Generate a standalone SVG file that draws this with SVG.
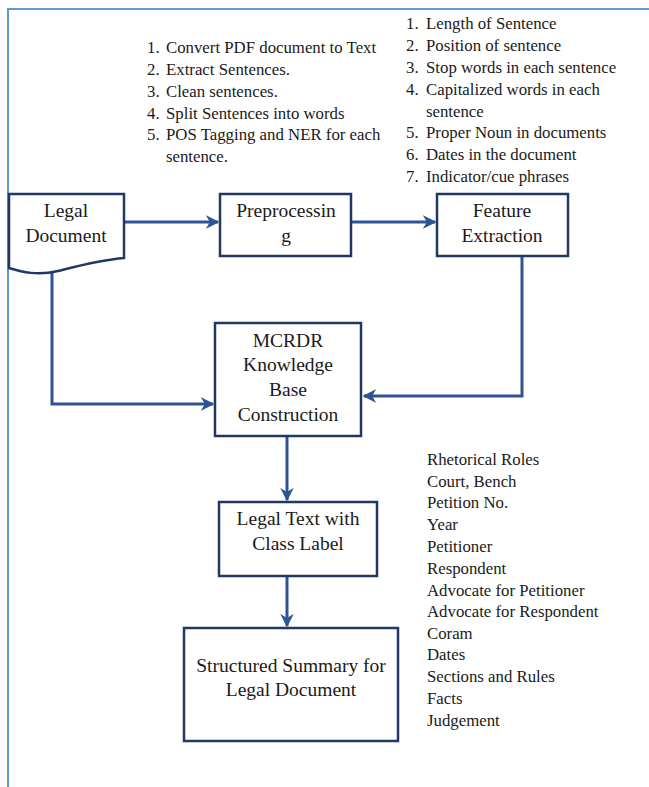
<svg xmlns="http://www.w3.org/2000/svg" width="649" height="787" viewBox="0 0 649 787">
<defs>
<style>
.frame{fill:none;stroke:#5B9BD5;stroke-width:2}
.box{fill:#fff;stroke:#1F3864;stroke-width:2.5}
.conn{fill:none;stroke:#2F5496;stroke-width:3}
.t{font-family:"Liberation Serif","Times New Roman",serif;fill:#1a1a1a}
.bt{font-size:19.5px;text-anchor:middle}
.lt{font-size:16.8px}
</style>
<marker id="ah" viewBox="0 0 10 10" refX="9" refY="5" markerWidth="4.5" markerHeight="4.5" orient="auto" markerUnits="strokeWidth">
<path d="M0,0 L10,5 L0,10 L3,5 Z" fill="#2F5496"/>
</marker>
</defs>
<rect width="649" height="787" fill="#fff"/>
<path class="frame" d="M8,787 V9 H649"/>

<g id="connectors">
<path class="conn" d="M124,222 H218" marker-end="url(#ah)"/>
<path class="conn" d="M351,222 H435" marker-end="url(#ah)"/>
<path class="conn" d="M522,256 V396 H364" marker-end="url(#ah)"/>
<path class="conn" d="M52,273 V404 H213" marker-end="url(#ah)"/>
<path class="conn" d="M287,436 V500" marker-end="url(#ah)"/>
<path class="conn" d="M287,576 V626" marker-end="url(#ah)"/>
</g>

<g id="legal-document">
<path class="box" d="M9,194 H124 V258 C100,260 78,266 58,271 C38,276 22,272 9,268 Z"/>
<text class="t bt" x="66" y="217">Legal</text>
<text class="t bt" x="66" y="242">Document</text>
</g>

<g id="preprocessing">
<rect class="box" x="220" y="194" width="131" height="62"/>
<text class="t bt" x="286" y="217">Preprocessin</text>
<text class="t bt" x="286" y="242">g</text>
</g>

<g id="feature-extraction">
<rect class="box" x="437" y="194" width="131" height="62"/>
<text class="t bt" x="502" y="217">Feature</text>
<text class="t bt" x="502" y="242">Extraction</text>
</g>

<g id="mcrdr">
<rect class="box" x="215" y="323" width="146" height="113"/>
<text class="t bt" x="288" y="347">MCRDR</text>
<text class="t bt" x="288" y="371">Knowledge</text>
<text class="t bt" x="288" y="396">Base</text>
<text class="t bt" x="288" y="421">Construction</text>
</g>

<g id="legal-text">
<rect class="box" x="219" y="502" width="158" height="74"/>
<text class="t bt" x="298" y="525">Legal Text with</text>
<text class="t bt" x="298" y="550">Class Label</text>
</g>

<g id="structured-summary">
<rect class="box" x="184" y="628" width="214" height="113"/>
<text class="t bt" x="291" y="672">Structured Summary for</text>
<text class="t bt" x="291" y="696">Legal Document</text>
</g>

<g id="preprocessing-steps" class="t lt">
<text x="147" y="53">1.</text><text x="166" y="53">Convert PDF document to Text</text>
<text x="147" y="75">2.</text><text x="166" y="75">Extract Sentences.</text>
<text x="147" y="97">3.</text><text x="166" y="97">Clean sentences.</text>
<text x="147" y="119">4.</text><text x="166" y="119">Split Sentences into words</text>
<text x="147" y="140">5.</text><text x="166" y="140">POS Tagging and NER for each</text>
<text x="166" y="162">sentence.</text>
</g>

<g id="features" class="t lt">
<text x="406" y="29">1.</text><text x="426" y="29">Length of Sentence</text>
<text x="406" y="51">2.</text><text x="426" y="51">Position of sentence</text>
<text x="406" y="73">3.</text><text x="426" y="73">Stop words in each sentence</text>
<text x="406" y="95">4.</text><text x="426" y="95">Capitalized words in each</text>
<text x="426" y="117">sentence</text>
<text x="406" y="138">5.</text><text x="426" y="138">Proper Noun in documents</text>
<text x="406" y="160">6.</text><text x="426" y="160">Dates in the document</text>
<text x="406" y="182">7.</text><text x="426" y="182">Indicator/cue phrases</text>
</g>

<g id="summary-fields" class="t lt">
<text x="427" y="465">Rhetorical Roles</text>
<text x="427" y="487">Court, Bench</text>
<text x="427" y="508">Petition No.</text>
<text x="427" y="530">Year</text>
<text x="427" y="552">Petitioner</text>
<text x="427" y="574">Respondent</text>
<text x="427" y="596">Advocate for Petitioner</text>
<text x="427" y="617">Advocate for Respondent</text>
<text x="427" y="639">Coram</text>
<text x="427" y="660">Dates</text>
<text x="427" y="682">Sections and Rules</text>
<text x="427" y="704">Facts</text>
<text x="427" y="726">Judgement</text>
</g>
</svg>
